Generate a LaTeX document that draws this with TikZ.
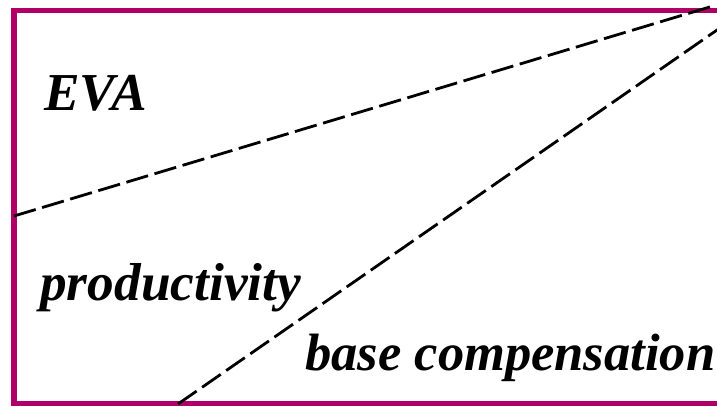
\documentclass[tikz,border=0pt]{standalone}
\usepackage{fontspec}
\setmainfont{Liberation Serif}
\usepackage{xcolor}
\usetikzlibrary{positioning}
\definecolor{frame}{HTML}{B00068}

\begin{document}
\begin{tikzpicture}[
  x=0.75pt, y=-0.75pt,
  lbl/.style={anchor=base west, inner sep=0pt, font=\fontsize{40}{44}\selectfont\bfseries\itshape},
  split/.style={dash pattern=on 17pt off 5pt, line width=2.1pt, black}]
\useasboundingbox (0,0) rectangle (717,405);
\clip (0,0) rectangle (717,405);
\draw[frame, line width=3.8pt] (14,10.5) rectangle (760,404);
\coordinate (l1a) at (14,216);
\coordinate (l1b) at (713,6);
\coordinate (l2a) at (178,404);
\coordinate (l2b) at (730,21);
\draw[split] (l1a) -- (l1b);
\draw[split] (l2a) -- (l2b);
\node[lbl] (eva) at (44,110) {EVA};
\node[lbl] (prod) at (40,300) {productivity};
\node[lbl, font=\fontsize{39.4}{43}\selectfont\bfseries\itshape] (base) at (305,370) {base compensation};
\end{tikzpicture}
\end{document}
